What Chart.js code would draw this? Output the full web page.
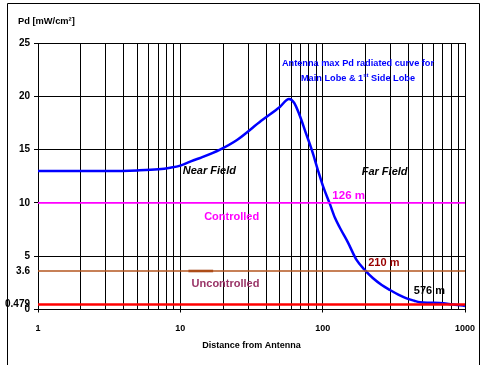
<!DOCTYPE html>
<html>
<head>
<meta charset="utf-8">
<title>Pd vs distance</title>
<script src="https://cdn.jsdelivr.net/npm/chart.js@4.4.1/dist/chart.umd.min.js"></script>
<style>
  body { margin: 0; background: #fff; }
  canvas { display: block; }
</style>
</head>
<body>
<canvas id="pdChart" width="481" height="365"></canvas>
<script>
// Curve values (distance in m, Pd in mW/cm2)
const distances = [1, 2, 3, 5, 7, 8.5, 10, 12.4, 14, 19, 25, 37, 50, 58, 63, 69, 76, 84, 92, 101, 112, 122, 133, 151, 173, 198, 226, 260, 297, 340, 389, 440, 482, 560, 665, 800, 1000];
const pdValues = [13.0, 13.0, 13.0, 13.05, 13.15, 13.3, 13.5, 14.0, 14.25, 15.0, 15.9, 17.7, 19.0, 19.75, 19.4, 18.2, 16.6, 14.95, 13.2, 11.5, 9.95, 8.6, 7.6, 6.25, 4.65, 3.7, 2.93, 2.3, 1.83, 1.4, 1.05, 0.82, 0.68, 0.63, 0.61, 0.5, 0.33];

// Limit lines
const controlledLimit = 10;
const uncontrolledLimit = 3.6;
const floorLimit = 0.479;
const lineRange = [1, 1000];
const markRange = [11.4, 17];

// Axis ticks
const xGridValues = [1, 2, 3, 4, 5, 6, 7, 8, 9, 10, 20, 30, 40, 50, 60, 70, 80, 90, 100, 200, 300, 400, 500, 600, 700, 800, 900, 1000];
const xLabelValues = [1, 10, 100, 1000];
const yTickValues = [0, 0.479, 3.6, 5, 10, 15, 20, 25];
const yGridValues = [0, 5, 10, 15, 20, 25];

const FONT = "Arial, 'Liberation Sans', sans-serif";

// Texts placed in data coordinates (left edge, vertical middle)
const notes = [
  { text: "Near Field", x: 10.4, y: 12.95, color: "#000", font: "italic bold 11px " + FONT },
  { text: "Far Field", x: 188, y: 12.9, color: "#000", font: "italic bold 11px " + FONT },
  { text: "126 m", x: 117, y: 10.65, color: "#ff00ff", font: "bold 11.5px " + FONT },
  { text: "Controlled", x: 14.7, y: 8.7, color: "#ff00ff", font: "bold 11px " + FONT },
  { text: "210 m", x: 209, y: 4.33, color: "#990000", font: "bold 11px " + FONT },
  { text: "Uncontrolled", x: 12, y: 2.39, color: "#993366", font: "bold 11px " + FONT },
  { text: "576 m", x: 437, y: 1.76, color: "#000", font: "bold 11px " + FONT }
];

function linePoints(xs, y) {
  return xs.map(x => ({ x: x, y: y }));
}

const curvePoints = distances.map((d, i) => ({ x: d, y: pdValues[i] }));

// Frame, unit label, blue caption and text notes
const textPlugin = {
  id: "textPlugin",
  afterDraw(chart) {
    const ctx = chart.ctx;
    const xs = chart.scales.x;
    const ys = chart.scales.y;
    ctx.save();

    ctx.strokeStyle = "#000";
    ctx.lineWidth = 1;
    ctx.beginPath();
    ctx.moveTo(7.5, 365);
    ctx.lineTo(7.5, 3.5);
    ctx.lineTo(479.5, 3.5);
    ctx.lineTo(479.5, 365);
    ctx.stroke();

    ctx.textBaseline = "middle";
    ctx.textAlign = "left";
    ctx.fillStyle = "#000";
    ctx.font = "bold 9.3px " + FONT;
    ctx.fillText("Pd [mW/cm²]", 18, 21);

    notes.forEach(n => {
      ctx.font = n.font;
      ctx.fillStyle = n.color;
      ctx.fillText(n.text, xs.getPixelForValue(n.x), ys.getPixelForValue(n.y));
    });

    // caption
    const big = "bold 9.2px " + FONT, small = "bold 6px " + FONT;
    ctx.fillStyle = "#0000ff";
    ctx.font = big;
    ctx.textAlign = "center";
    const cx = xs.getPixelForValue(177);
    ctx.fillText("Antenna max Pd radiated curve for", cx, 63.5);
    const a = "Main Lobe & 1", sup = "st", b = " Side Lobe";
    const wa = ctx.measureText(a).width, wb = ctx.measureText(b).width;
    ctx.font = small;
    const ws = ctx.measureText(sup).width;
    const left = cx - (wa + ws + wb) / 2;
    ctx.textAlign = "left";
    ctx.font = big;
    ctx.fillText(a, left, 78);
    ctx.font = small;
    ctx.fillText(sup, left + wa, 75);
    ctx.font = big;
    ctx.fillText(b, left + wa + ws, 78);

    ctx.restore();
  }
};

new Chart(document.getElementById("pdChart"), {
  type: "line",
  data: {
    datasets: [
      { data: linePoints(lineRange, controlledLimit), borderColor: "#ff00ff", borderWidth: 1.8 },
      { data: linePoints(lineRange, uncontrolledLimit), borderColor: "#b5561f", borderWidth: 1.5 },
      { data: linePoints(markRange, uncontrolledLimit), borderColor: "#993300", borderWidth: 2.5 },
      { data: linePoints(lineRange, floorLimit), borderColor: "#ff0000", borderWidth: 2.5 },
      { data: curvePoints, borderColor: "#0000ff", borderWidth: 2.5, cubicInterpolationMode: "monotone" }
    ]
  },
  options: {
    responsive: false,
    animation: false,
    layout: { padding: { left: 0, top: 43, right: 0, bottom: 0 } },
    elements: { point: { radius: 0 }, line: { fill: false } },
    plugins: { legend: { display: false }, tooltip: { enabled: false } },
    scales: {
      x: {
        type: "logarithmic",
        min: 1,
        max: 1000,
        afterBuildTicks: s => { s.ticks = xGridValues.map(v => ({ value: v })); },
        afterFit: s => {
          s.height = 55.5;
          s.paddingLeft = 0;
          s.paddingRight = 16; // keeps the plot right edge at x = 465
        },
        grid: {
          color: "#000",
          lineWidth: 1,
          tickLength: 3,
          tickColor: c => xLabelValues.includes(c.tick && c.tick.value) ? "#000" : "rgba(0,0,0,0)"
        },
        border: { color: "#000", width: 1 },
        ticks: {
          autoSkip: false,
          maxRotation: 0,
          padding: 11,
          color: "#000",
          font: { family: FONT, size: 9, weight: "bold" },
          callback: v => xLabelValues.includes(v) ? String(v) : ""
        },
        title: {
          display: true,
          text: "Distance from Antenna",
          color: "#000",
          font: { family: FONT, size: 9, weight: "bold" },
          padding: { top: 4, bottom: 14 }
        }
      },
      y: {
        type: "linear",
        min: 0,
        max: 25,
        afterBuildTicks: s => { s.ticks = yTickValues.map(v => ({ value: v })); },
        afterFit: s => { s.width = 38; },
        grid: {
          color: c => yGridValues.includes(c.tick && c.tick.value) ? "#000" : "rgba(0,0,0,0)",
          lineWidth: 1,
          tickLength: 4
        },
        border: { color: "#000", width: 1 },
        ticks: {
          autoSkip: false,
          padding: 4,
          color: "#000",
          font: { family: FONT, size: 10, weight: "bold" },
          callback: v => String(v)
        }
      }
    }
  },
  plugins: [textPlugin]
});
</script>
</body>
</html>
